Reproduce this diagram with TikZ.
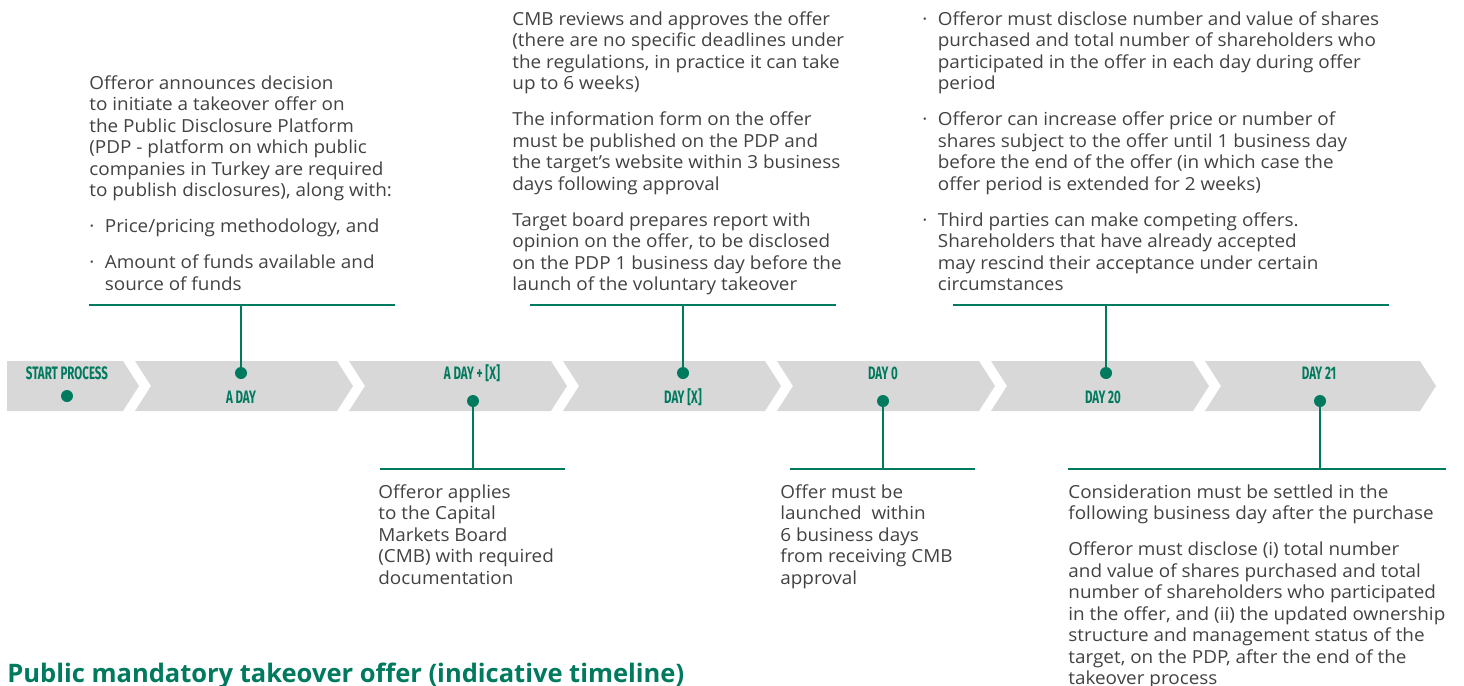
\documentclass[tikz,border=0pt]{standalone}
\usepackage{fontspec}
\setmainfont{Open Sans}[FakeStretch=1.05]
\newfontfamily\titlefont{Open Sans}
\newfontfamily\dayfont{Fira Sans}[FakeStretch=0.64]
\usetikzlibrary{positioning}
\definecolor{tlgreen}{RGB}{0,122,94}
\definecolor{tlgrey}{RGB}{216,216,216}
\definecolor{tltext}{RGB}{66,66,66}
\newcommand{\bul}{\makebox[7.75pt][l]{·}}
\newcommand{\ind}{\hspace*{7.75pt}}

\begin{document}
\begin{tikzpicture}[x=0.5pt,y=-0.5pt,
 txt/.style={align=left,inner sep=0pt,anchor=north west,text=tltext,font=\fontsize{9}{10.75}\selectfont},
 day/.style={text=tlgreen,inner sep=0pt,font=\dayfont\bfseries\fontsize{9}{9}\selectfont},
 dot/.style={circle,fill=tlgreen,inner sep=0pt,minimum size=6pt},
 rule/.style={draw=tlgreen,line width=1pt},
 chev/.style={fill=tlgrey,draw=none}]
\useasboundingbox (0,0) rectangle (1464,686);

\fill[chev] (7,361) -- (123,361) -- (139,386) -- (123,411) -- (7,411) -- cycle;
\foreach \l in {135,349,563,777,991}
  \fill[chev] (\l,361) -- ++(202,0) -- ++(16,25) -- ++(-16,25) -- ++(-202,0) -- ++(16,-25) -- cycle;
\fill[chev] (1205,361) -- (1420,361) -- (1436,386) -- (1420,411) -- (1205,411) -- (1221,386) -- cycle;

\node[day] (lStart) at (67,373) {START PROCESS};
\node[day] (lAday) at (241,397) {A DAY};
\node[day] (lAdayx) at (472,373) {A DAY + [X]};
\node[day] (lDayx) at (683,397) {DAY [X]};
\node[day] (lDay0) at (883,373) {DAY 0};
\node[day] (lDay20) at (1103,397) {DAY 20};
\node[day] (lDay21) at (1319,373) {DAY 21};

\node[dot] (pStart) at (67,396) {};
\node[dot] (pAday) at (241,373) {};
\node[dot] (pAdayx) at (473,401) {};
\node[dot] (pDayx) at (683,373) {};
\node[dot] (pDay0) at (883,401) {};
\node[dot] (pDay20) at (1106,373) {};
\node[dot] (pDay21) at (1320,401) {};

\coordinate (jAday) at (241,305);
\coordinate (jDayx) at (683,305);
\coordinate (jDay20) at (1106,305);
\coordinate (jAdayx) at (473,469);
\coordinate (jDay0) at (883,469);
\coordinate (jDay21) at (1320,469);
\draw[rule] (89,305) -- (395,305) (jAday) -- (pAday);
\draw[rule] (530,305) -- (836,305) (jDayx) -- (pDayx);
\draw[rule] (953,305) -- (1389,305) (jDay20) -- (pDay20);
\draw[rule] (380,469) -- (565,469) (jAdayx) -- (pAdayx);
\draw[rule] (790,469) -- (975,469) (jDay0) -- (pDay0);
\draw[rule] (1068,469) -- (1446,469) (jDay21) -- (pDay21);

\node[txt] (tAday) at (89,75) {Offeror announces decision\\
to initiate a takeover offer on\\
the Public Disclosure Platform\\
(PDP - platform on which public\\
companies in Turkey are required\\
to publish disclosures), along with:\\[7.25pt]
\bul Price/pricing methodology, and\\[7.25pt]
\bul Amount of funds available and\\
\ind source of funds};

\node[txt] (tDayx) at (512,11) {CMB reviews and approves the offer\\
(there are no specific deadlines under\\
the regulations, in practice it can take\\
up to 6 weeks)\\[7.25pt]
The information form on the offer\\
must be published on the PDP and\\
the target’s website within 3 business\\
days following approval\\[7.25pt]
Target board prepares report with\\
opinion on the offer, to be disclosed\\
on the PDP 1 business day before the\\
launch of the voluntary takeover};

\node[txt] (tDay20) at (922,11) {\bul Offeror must disclose number and value of shares\\
\ind purchased and total number of shareholders who\\
\ind participated in the offer in each day during offer\\
\ind period\\[7.25pt]
\bul Offeror can increase offer price or number of\\
\ind shares subject to the offer until 1 business day\\
\ind before the end of the offer (in which case the\\
\ind offer period is extended for 2 weeks)\\[7.25pt]
\bul Third parties can make competing offers.\\
\ind Shareholders that have already accepted\\
\ind may rescind their acceptance under certain\\
\ind circumstances};

\node[txt] (tAdayx) at (378,484) {Offeror applies\\
to the Capital\\
Markets Board\\
(CMB) with required\\
documentation};

\node[txt] (tDay0) at (780,484) {Offer must be\\
launched\ \ within\\
6 business days\\
from receiving CMB\\
approval};

\node[txt] (tDay21) at (1068,484) {Consideration must be settled in the\\
following business day after the purchase\\[7.25pt]
Offeror must disclose (i) total number\\
and value of shares purchased and total\\
number of shareholders who participated\\
in the offer, and (ii) the updated ownership\\
structure and management status of the\\
target, on the PDP, after the end of the\\
takeover process};

\node[anchor=base west,inner sep=0pt,text=tlgreen,font=\titlefont\bfseries\fontsize{12.75}{14}\selectfont] (title) at (7,682) {Public mandatory takeover offer (indicative timeline)};
\end{tikzpicture}
\end{document}
